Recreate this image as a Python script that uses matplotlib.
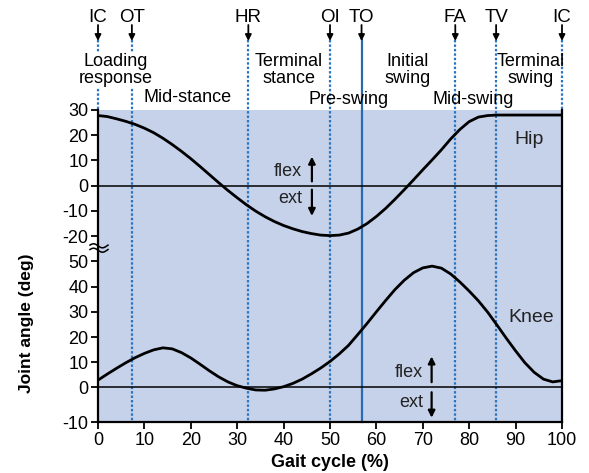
import matplotlib
matplotlib.use('Agg')
import math
import matplotlib.pyplot as plt
from matplotlib.transforms import blended_transform_factory

plt.rcParams['font.family'] = ['Liberation Sans', 'DejaVu Sans']

# ---------------- data ----------------
gait = [0, 2, 4, 6, 8, 10, 12, 14, 16, 18, 20, 22, 24, 26, 28, 30, 32, 34, 36, 38,
        40, 42, 44, 46, 48, 50, 52, 54, 56, 58, 60, 62, 64, 66, 68, 70, 72, 74, 76, 78,
        80, 82, 84, 86, 88, 90, 92, 94, 96, 98, 100]
hip = [27.8, 27.4, 26.5, 25.5, 24.3, 22.8, 21.0, 18.8, 16.3, 13.6, 10.7, 7.6, 4.4, 1.2,
       -1.9, -4.8, -7.6, -10.1, -12.3, -14.2, -15.8, -17.1, -18.2, -19.0, -19.6, -19.8,
       -19.6, -18.8, -17.2, -15.0, -12.2, -9.0, -5.4, -1.6, 2.3, 6.3, 10.2, 14.2, 18.5,
       22.3, 25.4, 27.2, 27.8, 28.0, 28.0, 28.0, 28.0, 28.0, 28.0, 28.0, 28.0]
knee = [2.9, 5.3, 7.6, 9.8, 11.8, 13.5, 14.9, 15.7, 15.3, 13.8, 11.7, 9.2, 6.6, 4.2, 2.2,
        0.7, -0.3, -1.0, -1.1, -0.6, 0.3, 1.6, 3.3, 5.4, 7.7, 10.3, 13.3, 16.7, 21.0, 25.4,
        30.0, 34.5, 38.8, 42.5, 45.5, 47.4, 48.1, 47.3, 45.0, 41.8, 38.2, 34.3, 29.8, 24.7,
        19.5, 14.5, 9.8, 6.0, 3.3, 2.2, 2.7]
hip_ticks = [-20, -10, 0, 10, 20, 30]
knee_ticks = [0, 10, 20, 30, 40, 50]
knee_bottom_label = '-10'
x_ticks = [0, 10, 20, 30, 40, 50, 60, 70, 80, 90, 100]
events = ['IC', 'OT', 'HR', 'OI', 'TO', 'FA', 'TV', 'IC']
event_pos = [0, 7.3, 32.4, 50, 56.8, 77, 85.8, 100]
phases = ['Loading\nresponse', 'Mid-stance', 'Terminal\nstance', 'Pre-swing',
          'Initial\nswing', 'Mid-swing', 'Terminal\nswing']

# ---------------- layout ----------------
W, H = 589, 473
HIP_OFF = 80
YBOT = -13.7
fig = plt.figure(figsize=(W / 100, H / 100), dpi=100)
ax = fig.add_axes([98 / W, 1 - 422 / H, (562 - 98) / W, (422 - 110) / H])
ax.set_xlim(0, 100)
ax.set_ylim(YBOT, 110)
ax.set_facecolor('#c6d2ea')

def fy(py):
    return 1 - py / H

def px2x(px):
    return (px - 98) / 4.64

trans = blended_transform_factory(ax.transData, fig.transFigure)

blue = '#2a74c0'
# event lines
for name, x in zip(events, event_pos):
    if name == 'TO':
        ax.plot([x, x], [fy(40), fy(422)], transform=trans, color='#2a6aae', lw=1.6,
                clip_on=False, zorder=2)
    elif x in (0, 100):
        ax.plot([x, x], [fy(40), fy(110)], transform=trans, color=blue, lw=1.6,
                ls=(0, (1.1, 0.9)), clip_on=False, zorder=2)
    else:
        ax.plot([x, x], [fy(40), fy(422)], transform=trans, color=blue, lw=1.6,
                ls=(0, (1.1, 0.9)), clip_on=False, zorder=2)
    ax.text(x, fy(17), name, transform=trans, ha='center', va='center', fontsize=13.5,
            clip_on=False)
    ax.annotate('', xy=(x, fy(41)), xytext=(x, fy(25)), xycoords=trans, textcoords=trans,
                arrowprops=dict(arrowstyle='-|>', color='black', lw=1.3, mutation_scale=9,
                                shrinkA=0, shrinkB=0), annotation_clip=False)

# phase labels
phase_px = [(116, 70), (188, 98), (289, 70), (348.5, 99), (407.5, 70), (473.5, 99), (531, 70)]
for text, (px, py) in zip(phases, phase_px):
    kw = {}
    if text.startswith('Loading'):
        kw['bbox'] = dict(fc='white', ec='none', pad=1)
    ax.text(px2x(px), fy(py), text, transform=trans, ha='center', va='center',
            fontsize=13, linespacing=0.98, clip_on=False, zorder=5, **kw)

# zero lines
ax.axhline(HIP_OFF, color='black', lw=1.1, zorder=3)
ax.axhline(0, color='black', lw=1.1, zorder=3)

# curves
ax.plot(gait, [h + HIP_OFF for h in hip], color='black', lw=2.0, zorder=4)
ax.plot(gait, knee, color='black', lw=2.0, zorder=4)

# labels in plot
ax.text(px2x(529), 98.5, 'Hip', ha='center', va='center', fontsize=14, color='#222222')
ax.text(px2x(531), 27.8, 'Knee', ha='center', va='center', fontsize=14, color='#222222')

def flexext(xr, u_flex, u_ext, xa, up0, up1, dn0, dn1):
    ax.text(xr, u_flex, 'flex', ha='right', va='center', fontsize=13, color='#222222')
    ax.text(xr, u_ext, 'ext', ha='right', va='center', fontsize=13, color='#222222')
    ax.annotate('', xy=(xa, up1), xytext=(xa, up0),
                arrowprops=dict(arrowstyle='-|>', color='black', lw=1.6, mutation_scale=10,
                                shrinkA=0, shrinkB=0))
    ax.annotate('', xy=(xa, dn1), xytext=(xa, dn0),
                arrowprops=dict(arrowstyle='-|>', color='black', lw=1.6, mutation_scale=10,
                                shrinkA=0, shrinkB=0))

flexext(44.0, 85.6, 74.8, 46.1, 81.7, 91.5, 78.4, 68.0)
flexext(70.0, 6.0, -5.8, 71.9, 2.1, 12.3, -1.9, -12.0)

# ticks
yt = [YBOT] + knee_ticks + [t + HIP_OFF for t in hip_ticks]
ylab = [knee_bottom_label] + [str(t) for t in knee_ticks] + [str(t) for t in hip_ticks]
ax.set_yticks(yt)
ax.set_yticklabels(ylab)
ax.set_xticks(x_ticks)
ax.set_xticklabels([str(t) for t in x_ticks])
ax.tick_params(direction='out', length=5, width=1.3, labelsize=13, pad=2, colors='black')
for s in ('left', 'bottom', 'right'):
    ax.spines[s].set_linewidth(1.6)
ax.spines['top'].set_visible(False)

# axis break symbol on the y-axis
for dy in (-2.2, 2.2):
    xs = [(98 + k * 0.5 - 8) / W for k in range(0, 37)]
    ys = [fy(248 + dy + 2.0 * math.sin((k * 0.5 - 8) / 18 * 2 * math.pi)) for k in range(0, 37)]
    fig.add_artist(plt.Line2D(xs, ys, color='black', lw=1.1, zorder=10))

# axis titles
fig.text(330 / W, fy(462), 'Gait cycle (%)', ha='center', va='center', fontsize=13,
         fontweight='bold')
fig.text(27 / W, fy(323), 'Joint angle (deg)', ha='center', va='center', rotation=90,
         fontsize=12.5, fontweight='bold')

fig.savefig('out.png', dpi=100, facecolor='white')
